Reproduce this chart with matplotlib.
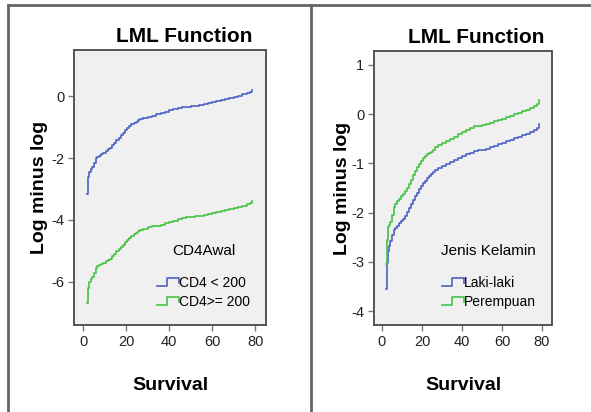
import matplotlib
matplotlib.use("Agg")
import matplotlib.pyplot as plt
from matplotlib.lines import Line2D
from matplotlib.legend_handler import HandlerLine2D

plt.rcParams['font.family'] = ['Liberation Sans', 'DejaVu Sans']
plt.rcParams['axes.unicode_minus'] = False

# survival times (x) for the step curves
t = [1.8, 2.3, 3, 3.6, 4.2, 5, 5.8, 6.5, 7.5, 8.5,
     9.5, 10.5, 11.5, 12.5, 13.5, 14.5, 15.5, 16.5, 17.5, 18.5,
     19.5, 20.5, 21.5, 22.5, 23.5, 24.5, 25.5, 26.5, 28, 30,
     32, 34, 36, 38, 40, 42, 44, 46, 48, 50,
     52, 54, 56, 58, 60, 62, 64, 66, 68, 70,
     72, 74, 76, 77.5, 78.3]

# left panel: CD4Awal
cd4_low = [-3.15, -2.62, -2.45, -2.35, -2.28, -2.15, -2.0, -1.96, -1.92, -1.87,
           -1.82, -1.77, -1.72, -1.66, -1.58, -1.5, -1.42, -1.34, -1.26, -1.18,
           -1.1, -1.03, -0.97, -0.91, -0.86, -0.82, -0.78, -0.74, -0.7, -0.66,
           -0.62, -0.58, -0.54, -0.5, -0.45, -0.41, -0.37, -0.34, -0.33, -0.32,
           -0.31, -0.28, -0.25, -0.21, -0.17, -0.14, -0.11, -0.08, -0.05, -0.02,
           0.02, 0.06, 0.1, 0.15, 0.2]
cd4_high = [-6.7, -6.2, -6.0, -5.92, -5.85, -5.72, -5.55, -5.5, -5.46, -5.42,
            -5.38, -5.34, -5.3, -5.25, -5.18, -5.1, -5.02, -4.95, -4.87, -4.8,
            -4.72, -4.65, -4.58, -4.52, -4.46, -4.41, -4.36, -4.32, -4.28, -4.24,
            -4.21, -4.18, -4.15, -4.11, -4.07, -4.02, -3.98, -3.94, -3.91, -3.89,
            -3.88, -3.87, -3.85, -3.82, -3.78, -3.75, -3.72, -3.69, -3.66, -3.62,
            -3.58, -3.54, -3.5, -3.44, -3.38]

# right panel: Jenis Kelamin
laki = [-3.55, -3.02, -2.78, -2.68, -2.58, -2.45, -2.36, -2.32, -2.27, -2.22,
        -2.17, -2.12, -2.06, -1.98, -1.9, -1.82, -1.74, -1.67, -1.6, -1.53,
        -1.46, -1.4, -1.35, -1.3, -1.26, -1.22, -1.18, -1.14, -1.1, -1.06,
        -1.02, -0.98, -0.94, -0.9, -0.86, -0.82, -0.78, -0.74, -0.73, -0.72,
        -0.7, -0.67, -0.64, -0.61, -0.58, -0.55, -0.52, -0.49, -0.46, -0.43,
        -0.4, -0.36, -0.32, -0.28, -0.2]
perempuan = [-3.05, -2.55, -2.3, -2.25, -2.18, -2.05, -1.88, -1.82, -1.77, -1.72,
             -1.67, -1.62, -1.56, -1.5, -1.42, -1.33, -1.24, -1.16, -1.08, -1.01,
             -0.95, -0.9, -0.86, -0.82, -0.79, -0.76, -0.72, -0.66, -0.62, -0.58,
             -0.54, -0.5, -0.46, -0.41, -0.37, -0.33, -0.29, -0.25, -0.24, -0.23,
             -0.21, -0.18, -0.15, -0.12, -0.09, -0.06, -0.03, 0.0, 0.03, 0.06,
             0.09, 0.13, 0.17, 0.21, 0.28]

blue = '#4d62c4'
green = '#45c445'
frame = '#555555'


class StepHandler(HandlerLine2D):
    # little step icon like in SPSS legends
    def create_artists(self, legend, orig_handle, xdescent, ydescent, width, height, fontsize, trans):
        w, h = width, height
        xs = [-xdescent, -xdescent + 0.45 * w, -xdescent + 0.45 * w, -xdescent + w, -xdescent + w]
        ys = [0.1 * h, 0.1 * h, 0.9 * h, 0.9 * h, 0.4 * h]
        ln = Line2D(xs, ys, color=orig_handle.get_color(), lw=1.2)
        ln.set_transform(trans)
        return [ln]


fig = plt.figure(figsize=(5.91, 4.12), dpi=100)

# outer table lines
fig.add_artist(Line2D([8 / 591, 1], [1 - 5 / 412, 1 - 5 / 412], color='#666666', lw=2))
fig.add_artist(Line2D([8 / 591, 8 / 591], [0, 1 - 5 / 412], color='#666666', lw=2))
fig.add_artist(Line2D([311 / 591, 311 / 591], [0, 1 - 5 / 412], color='#666666', lw=2))

ax1 = fig.add_axes([74 / 591, 87 / 412, 192 / 591, 275 / 412])
ax2 = fig.add_axes([374 / 591, 87 / 412, 178 / 591, 274 / 412])

ax1.step(t, cd4_low, where='post', color=blue, lw=1.2, label='CD4 < 200')
ax1.step(t, cd4_high, where='post', color=green, lw=1.2, label='CD4>= 200')
ax1.set_xlim(-4.2, 85)
ax1.set_ylim(-7.4, 1.5)
ax1.set_yticks([0, -2, -4, -6])

ax2.step(t, laki, where='post', color=blue, lw=1.2, label='Laki-laki')
ax2.step(t, perempuan, where='post', color=green, lw=1.2, label='Perempuan')
ax2.set_xlim(-4, 85)
ax2.set_ylim(-4.28, 1.28)
ax2.set_yticks([1, 0, -1, -2, -3, -4])

for ax, title, ylx in [(ax1, 'CD4Awal', -0.135), (ax2, 'Jenis Kelamin', -0.13)]:
    ax.set_facecolor('#f0f0f0')
    ax.set_xticks([0, 20, 40, 60, 80])
    for s in ax.spines.values():
        s.set_color(frame)
        s.set_linewidth(1.4)
    ax.tick_params(direction='out', length=4, width=1, color='#777777',
                   labelsize=10.5, labelcolor='#222222', pad=3)
    ax.set_title('LML Function', fontsize=15, fontweight='bold', pad=6, x=0.575)
    ax.set_xlabel('Survival', fontsize=14, fontweight='bold', labelpad=20)
    ax.set_ylabel('Log minus log', fontsize=14, fontweight='bold')
    ax.yaxis.set_label_coords(ylx, 0.5)
    leg = ax.legend(title=title, loc='lower right', frameon=False, fontsize=10,
                    title_fontsize=11, handlelength=1.6, handletextpad=0.0,
                    labelspacing=0.35, borderaxespad=0.75,
                    handler_map={Line2D: StepHandler()})
    leg._legend_box.sep = 13

fig.savefig('out.png', dpi=100)
